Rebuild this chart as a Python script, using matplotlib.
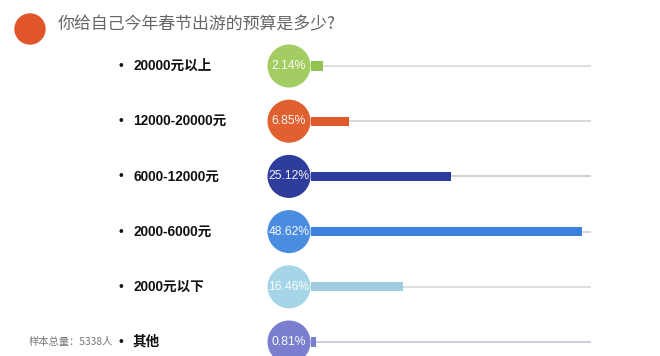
import matplotlib
matplotlib.use('Agg')
import matplotlib.pyplot as plt
from matplotlib.patches import Ellipse
from matplotlib.transforms import blended_transform_factory

plt.rcParams['font.family'] = ['Noto Sans CJK SC', 'DejaVu Sans']

title = '你给自己今年春节出游的预算是多少?'
categories = ['20000元以上', '12000-20000元', '6000-12000元', '2000-6000元', '2000元以下', '其他']
shares = [2.14, 6.85, 25.12, 48.62, 16.46, 0.81]
share_labels = ['2.14%', '6.85%', '25.12%', '48.62%', '16.46%', '0.81%']
circle_colors = ['#a3cd62', '#e0602f', '#2e3c9c', '#4a8de0', '#a6d5e8', '#7b7ecf']
bar_colors = ['#92c24f', '#de5a2a', '#2d3d9f', '#3c82dc', '#9fcde0', '#7b7ecf']
track_colors = ['#d8dcd0', '#d6d2cf', '#c8c8cc', '#d0d4dc', '#d4dadc', '#c4c4e0']
sample_note = '样本总量：5338人'
track_end = 50.3

W, H = 660, 356
fig = plt.figure(figsize=(W / 100, H / 100), dpi=100)

# bar axes: 0% sits at x=311px, 5.57 px per percent, rows every ~55px from y=66px
px_per_pct = 5.57
x0_px = 311
ax_left, ax_right = 250, 610
row_px = 55.2
top_px = 66 - 0.5 * row_px
ax = fig.add_axes([ax_left / W, 0, (ax_right - ax_left) / W, (H - top_px) / H])
ax.set_xlim((ax_left - x0_px) / px_per_pct, (ax_right - x0_px) / px_per_pct)
ax.set_ylim(-0.5 + (H - top_px) / row_px, -0.5)
ax.axis('off')

circle_x = (289 - x0_px) / px_per_pct
rows = range(len(categories))

ax.hlines(list(rows), 0, track_end, colors=track_colors, linewidth=1.2, zorder=1)
ax.barh(list(rows), shares, height=0.17, color=bar_colors, zorder=2)
ax.scatter([circle_x] * len(categories), list(rows), s=960, c=circle_colors,
           zorder=3, clip_on=False, linewidths=0)
for i, lab in enumerate(share_labels):
    ax.text(circle_x, i, lab, color='white', fontsize=8.7, ha='center', va='center',
            family=['Liberation Sans', 'DejaVu Sans'], zorder=4, alpha=0.95)

# category labels with bullets
tr = blended_transform_factory(fig.transFigure, ax.transData)
for i, cat in enumerate(categories):
    ax.text(121 / W, i, '•', transform=tr, fontsize=10, ha='center', va='center',
            color='#111111', family=['Liberation Sans'])
    ax.text(133 / W, i, cat, transform=tr, fontsize=9.8, fontweight='bold',
            ha='left', va='center', color='#111111',
            family=['Liberation Sans', 'Noto Sans CJK SC'])

ax.text(113 / W, len(categories) - 1, sample_note, transform=tr, fontsize=7.4,
        ha='right', va='center', color='#777777')

# title with orange dot
fig.add_artist(Ellipse((30 / W, 1 - 29 / H), 30 / W, 30 / H,
                       transform=fig.transFigure, color='#e0562a', zorder=5))
fig.text(58 / W, 1 - 24 / H, title, fontsize=12.2, color='#666666',
         ha='left', va='center')

fig.savefig('out.png', dpi=100, facecolor='white')
